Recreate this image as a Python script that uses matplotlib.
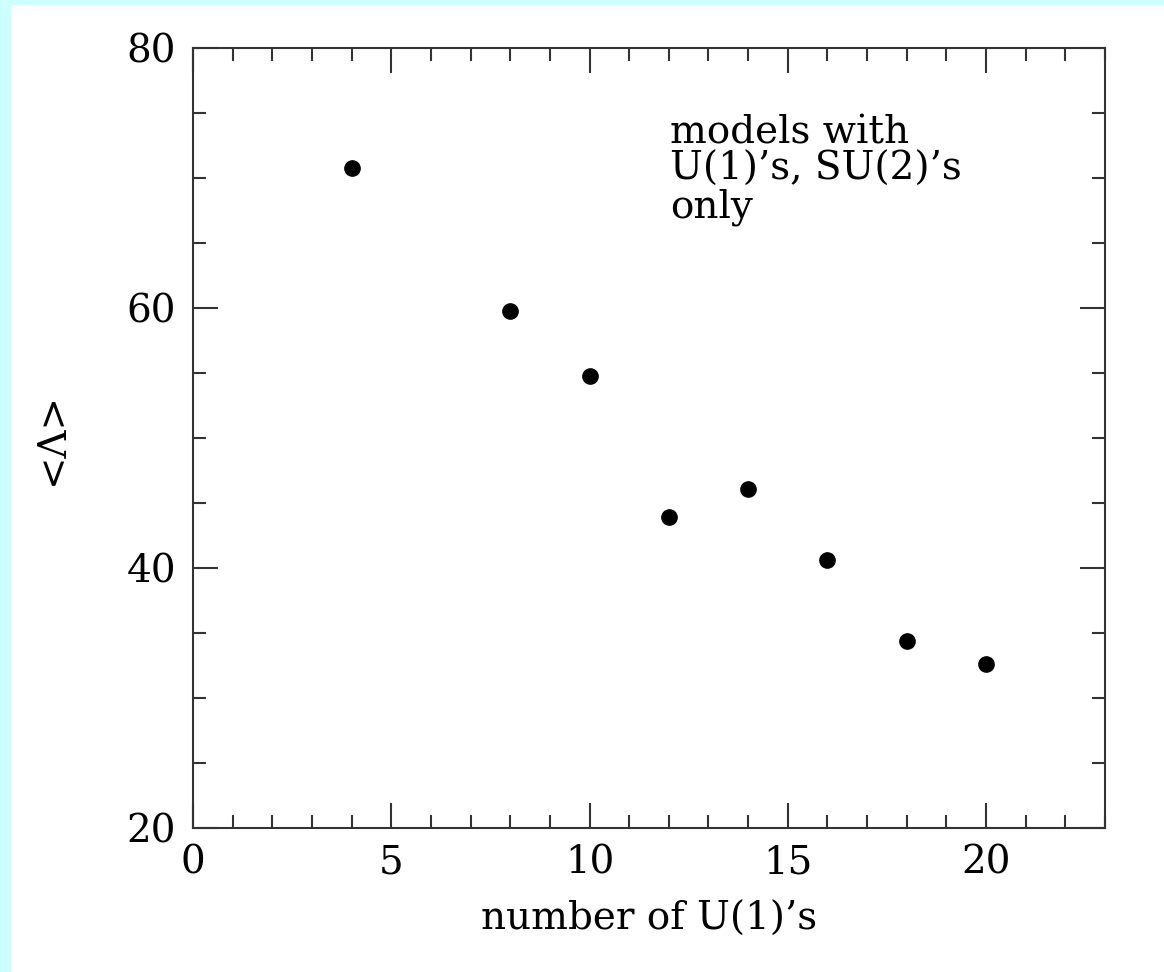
import matplotlib
matplotlib.use("Agg")
import matplotlib.pyplot as plt
import matplotlib.ticker as mticker
from matplotlib.patches import Rectangle

# data
n_u1 = [4, 8, 10, 12, 14, 16, 18, 20]
mean_lambda = [70.8, 59.8, 54.8, 43.9, 46.1, 40.6, 34.4, 32.6]

plt.rcParams["font.family"] = ["DejaVu Serif"]
FS = 28

fig = plt.figure(figsize=(11.64, 9.72), dpi=100)
fig.patch.set_facecolor("white")

# light cyan frame on the left and top edges
cyan = "#ccffff"
fig.patches.append(Rectangle((0, 0), 11 / 1164, 1, transform=fig.transFigure,
                             facecolor=cyan, edgecolor="none", zorder=-1))
fig.patches.append(Rectangle((0, 1 - 5 / 972), 1, 5 / 972, transform=fig.transFigure,
                             facecolor=cyan, edgecolor="none", zorder=-1))

ax = fig.add_axes([193 / 1164, 144 / 972, 912 / 1164, 780 / 972])
ax.plot(n_u1, mean_lambda, "o", color="black", markersize=11)

ax.set_xlim(0, 23)
ax.set_ylim(20, 80)
ax.xaxis.set_major_locator(mticker.MultipleLocator(5))
ax.xaxis.set_minor_locator(mticker.MultipleLocator(1))
ax.yaxis.set_major_locator(mticker.MultipleLocator(20))
ax.yaxis.set_minor_locator(mticker.MultipleLocator(5))

ax.tick_params(which="both", direction="in", top=True, right=True,
               width=1.5, color="#333333", labelsize=FS, pad=12)
ax.tick_params(which="major", length=18)
ax.tick_params(which="minor", length=9.5)
for s in ax.spines.values():
    s.set_linewidth(1.5)
    s.set_color("#333333")

ax.set_xlabel("number of U(1)’s", fontsize=FS, labelpad=14)
ax.set_ylabel("<Λ>", fontsize=FS, labelpad=40)

ax.text(0.523, 0.915, "models with\nU(1)’s, SU(2)’s\nonly", transform=ax.transAxes,
        fontsize=FS, va="top", ha="left", linespacing=1.0)

fig.savefig("out.png", dpi=100, facecolor=fig.get_facecolor())
